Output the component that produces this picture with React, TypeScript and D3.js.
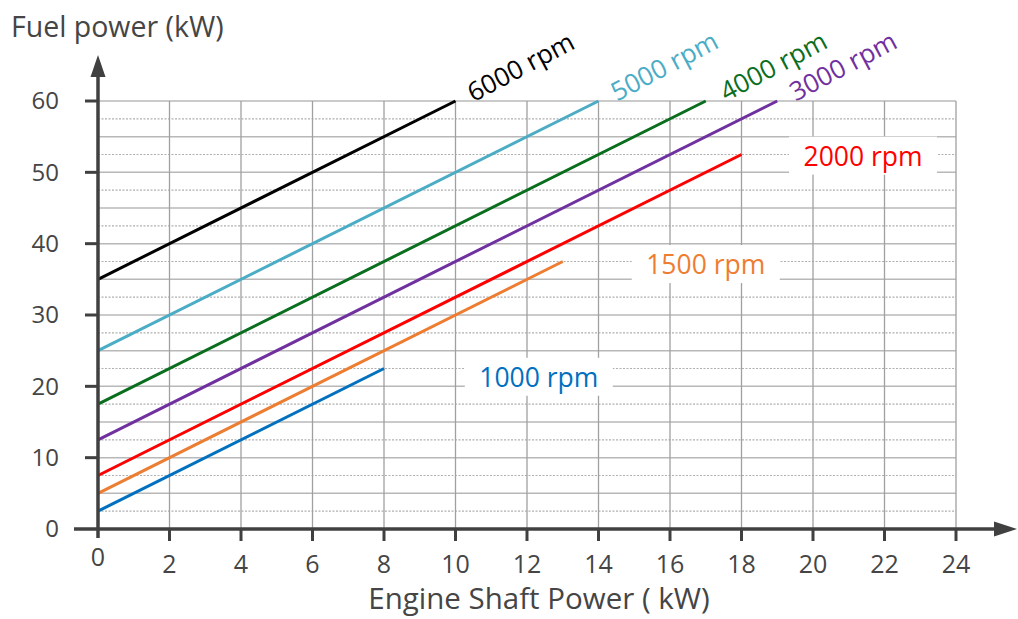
import React, { useEffect, useRef } from "react"
import * as d3 from "d3"

// engine speed lines: fuel power vs shaft power
const speeds = ["6000 rpm", "5000 rpm", "4000 rpm", "3000 rpm", "2000 rpm", "1500 rpm", "1000 rpm"]
const startFuel = [35, 25, 17.5, 12.5, 7.5, 5, 2.5]
const endShaft = [10, 14, 17, 19, 18, 13, 8]
const endFuel = [60, 60, 60, 60, 52.5, 37.5, 22.5]
const colors = ["#000000", "#4bacc6", "#0a6e1e", "#7030a0", "#ff0000", "#ed7d31", "#0070c0"]

const xTicks = [0, 2, 4, 6, 8, 10, 12, 14, 16, 18, 20, 22, 24]
const yTicks = [0, 10, 20, 30, 40, 50, 60]

// where each label sits, in data units
const labelAt: [number, number, boolean][] = [
    [10.5, 59.8, true],
    [14.52, 59.9, true],
    [17.57, 59.9, true],
    [19.52, 59.9, true],
    [21.4, 52.2, false],
    [17.0, 37.0, false],
    [12.33, 21.2, false],
]

const FONT = "'Open Sans', sans-serif"

export default function App() {
    const ref = useRef<SVGSVGElement>(null)

    useEffect(() => {
        const svg = d3.select(ref.current)
        svg.selectAll("*").remove()

        const x = d3.scaleLinear().domain([0, 24]).range([98, 956])
        const y = d3.scaleLinear().domain([0, 60]).range([529, 101])

        const grid = svg.append("g")
        // dotted half lines
        grid.selectAll("line.dot")
            .data(d3.range(2.5, 60, 5))
            .enter().append("line")
            .attr("x1", x(0)).attr("x2", x(24))
            .attr("y1", d => y(d)).attr("y2", d => y(d))
            .attr("stroke", "#b0b0b0").attr("stroke-width", 1.2)
            .attr("stroke-dasharray", "2,1.5")
        grid.selectAll("line.h")
            .data(d3.range(5, 61, 5))
            .enter().append("line")
            .attr("x1", x(0)).attr("x2", x(24))
            .attr("y1", d => y(d)).attr("y2", d => y(d))
            .attr("stroke", "#b8b8b8").attr("stroke-width", 1.5)
        grid.selectAll("line.v")
            .data(xTicks.slice(1))
            .enter().append("line")
            .attr("x1", d => x(d)).attr("x2", d => x(d))
            .attr("y1", y(0)).attr("y2", y(60))
            .attr("stroke", "#a0a0a0").attr("stroke-width", 1.3)

        const labels = svg.append("g")

        // lines
        const line = d3.line<[number, number]>().x(d => x(d[0])).y(d => y(d[1]))
        svg.append("g").selectAll("path")
            .data(speeds.map((s, i) => [[0, startFuel[i]], [endShaft[i], endFuel[i]]] as [number, number][]))
            .enter().append("path")
            .attr("d", d => line(d))
            .attr("fill", "none")
            .attr("stroke", (d, i) => colors[i])
            .attr("stroke-width", 3)

        speeds.forEach((s, i) => {
            const [lx, ly, rot] = labelAt[i]
            if (rot) {
                labels.append("text")
                    .attr("transform", `translate(${x(lx)},${y(ly)}) rotate(-28)`)
                    .attr("font-family", FONT).attr("font-size", 26)
                    .attr("fill", colors[i])
                    .text(s)
            } else {
                // white box behind the label hides the grid
                labels.append("rect")
                    .attr("x", x(lx) - 74).attr("y", y(ly) - 20)
                    .attr("width", 148).attr("height", 38)
                    .attr("fill", "white")
                labels.append("text")
                    .attr("x", x(lx)).attr("y", y(ly))
                    .attr("dy", "0.35em")
                    .attr("text-anchor", "middle")
                    .attr("font-family", FONT).attr("font-size", 26.5)
                    .attr("fill", colors[i])
                    .text(s)
            }
        })

        // axes
        const axis = svg.append("g").attr("stroke", "#404040")
        axis.append("line")
            .attr("x1", 74).attr("x2", 1000)
            .attr("y1", y(0)).attr("y2", y(0))
            .attr("stroke-width", 3.5)
        axis.append("line")
            .attr("x1", x(0)).attr("x2", x(0))
            .attr("y1", 538).attr("y2", 68)
            .attr("stroke-width", 3.5)
        axis.append("path")
            .attr("d", `M1017,${y(0)} L994,${y(0) - 7.5} L994,${y(0) + 7.5} Z`)
            .attr("fill", "#404040").attr("stroke", "none")
        axis.append("path")
            .attr("d", `M${x(0)},55 L${x(0) - 7.5},77 L${x(0) + 7.5},77 Z`)
            .attr("fill", "#404040").attr("stroke", "none")
        axis.selectAll("line.xt")
            .data(xTicks.slice(1))
            .enter().append("line")
            .attr("x1", d => x(d)).attr("x2", d => x(d))
            .attr("y1", y(0)).attr("y2", y(0) + 12)
            .attr("stroke-width", 3)
        axis.selectAll("line.yt")
            .data(yTicks.slice(1))
            .enter().append("line")
            .attr("x1", x(0) - 13).attr("x2", x(0))
            .attr("y1", d => y(d)).attr("y2", d => y(d))
            .attr("stroke-width", 3)

        svg.append("g").selectAll("text")
            .data(xTicks)
            .enter().append("text")
            .attr("x", d => x(d)).attr("y", d => d === 0 ? 566 : 573)
            .attr("text-anchor", "middle")
            .attr("font-family", FONT).attr("font-size", 25)
            .attr("fill", "#454545")
            .text(d => d)
        svg.append("g").selectAll("text")
            .data(yTicks)
            .enter().append("text")
            .attr("x", 59).attr("y", d => y(d))
            .attr("dy", "0.35em")
            .attr("text-anchor", "end")
            .attr("font-family", FONT).attr("font-size", 24)
            .attr("fill", "#454545")
            .text(d => d)

        svg.append("text")
            .attr("x", 11).attr("y", 37)
            .attr("font-family", FONT).attr("font-size", 28.5)
            .attr("fill", "#454545")
            .text("Fuel power (kW)")
        svg.append("text")
            .attr("x", 539).attr("y", 609)
            .attr("text-anchor", "middle")
            .attr("font-family", FONT).attr("font-size", 29.5)
            .attr("fill", "#454545")
            .text("Engine Shaft Power ( kW)")
    }, [])

    return (
        <svg ref={ref} width={1018} height={619}
            style={{ position: "absolute", left: 0, top: 0, background: "white" }} />
    )
}
